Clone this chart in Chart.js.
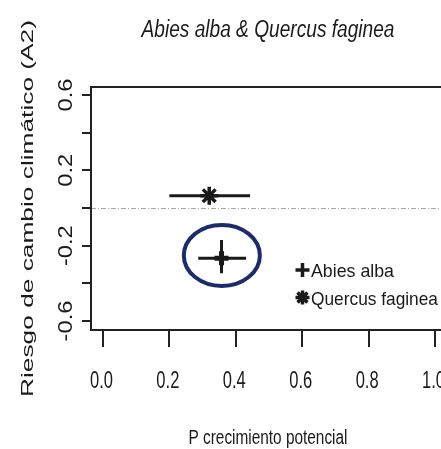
<!DOCTYPE html>
<html>
<head>
<meta charset="utf-8">
<script src="https://cdn.jsdelivr.net/npm/chart.js@4.4.0/dist/chart.umd.min.js"></script>
<style>
    html, body { margin: 0; padding: 0; background: #fff; overflow: hidden; }
    #wrap { width: 470px; height: 449px; }
</style>
</head>
<body>
<div id="wrap"><canvas id="myChart" width="470" height="449"></canvas></div>
<script>
// values
var species = ['Abies alba', 'Quercus faginea'];
var growth = [0.357, 0.32];
var risk = [-0.267, 0.065];
var growthLow = [0.287, 0.2];
var growthHigh = [0.431, 0.443];
var riskLow = [-0.347, 0.065];
var riskHigh = [-0.17, 0.065];
var markers = ['cross', 'star'];

var xTicks = [0, 0.2, 0.4, 0.6, 0.8, 1.0];
var yTicks = [-0.6, -0.4, -0.2, 0, 0.2, 0.4, 0.6];
var yLabels = [-0.6, -0.2, 0.2, 0.6];

var FONT = "'Liberation Sans', Arial, sans-serif";
var INK = '#1a1a1a';

function fitScale(ctx, text, font, target) {
    ctx.font = font;
    return target / ctx.measureText(text).width;
}

function drawText(ctx, text, x, y, font, sx, rot, align) {
    ctx.save();
    ctx.font = font;
    ctx.translate(x, y);
    if (rot) ctx.rotate(rot);
    ctx.scale(sx, 1);
    ctx.textAlign = align || 'center';
    ctx.textBaseline = 'alphabetic';
    ctx.fillStyle = INK;
    ctx.fillText(text, 0, 0);
    ctx.restore();
}

var rPlot = {
    id: 'rPlot',
    beforeDatasetsDraw: function(chart) {
        var ctx = chart.ctx, a = chart.chartArea;
        var xs = chart.scales.x, ys = chart.scales.y;

        // dot-dash reference line at zero
        ctx.save();
        ctx.strokeStyle = '#a8a8a8';
        ctx.lineWidth = 1;
        ctx.setLineDash([5, 2, 1, 2]);
        ctx.beginPath();
        var y0 = Math.round(ys.getPixelForValue(0)) + 0.5;
        ctx.moveTo(a.left, y0);
        ctx.lineTo(a.right, y0);
        ctx.stroke();
        ctx.restore();

        // error bars
        ctx.save();
        ctx.strokeStyle = INK;
        ctx.lineWidth = 3;
        species.forEach(function(name, i) {
            var py = ys.getPixelForValue(risk[i]);
            var px = xs.getPixelForValue(growth[i]);
            ctx.beginPath();
            ctx.moveTo(xs.getPixelForValue(growthLow[i]), py);
            ctx.lineTo(xs.getPixelForValue(growthHigh[i]), py);
            ctx.moveTo(px, ys.getPixelForValue(riskLow[i]));
            ctx.lineTo(px, ys.getPixelForValue(riskHigh[i]));
            ctx.stroke();
        });
        ctx.restore();
    },
    afterDatasetsDraw: function(chart, args, opts) {
        var ctx = chart.ctx, a = chart.chartArea;
        var xs = chart.scales.x, ys = chart.scales.y;

        // highlight ring
        var r = opts.ring;
        ctx.save();
        ctx.strokeStyle = '#1c2c6a';
        ctx.lineWidth = 4;
        ctx.beginPath();
        var cx = xs.getPixelForValue(r.x), cy = ys.getPixelForValue(r.y);
        ctx.ellipse(cx, cy,
            xs.getPixelForValue(r.x + r.rx) - cx,
            cy - ys.getPixelForValue(r.y + r.ry), 0, 0, Math.PI * 2);
        ctx.stroke();
        ctx.restore();

        // box
        ctx.save();
        ctx.strokeStyle = '#222';
        ctx.lineWidth = 2;
        ctx.strokeRect(a.left, a.top, a.right - a.left, a.bottom - a.top);
        ctx.restore();

        // title
        var tf = 'italic 23px ' + FONT;
        var title = 'Abies alba & Quercus faginea';
        drawText(ctx, title, 268, 37, tf, fitScale(ctx, title, tf, 253));

        // x tick labels
        var xf = '23.5px ' + FONT;
        var xsx = fitScale(ctx, '0.0', xf, 23);
        xTicks.forEach(function(v) {
            drawText(ctx, v.toFixed(1), xs.getPixelForValue(v) - 1.5, 387.5, xf, xsx);
        });

        // y tick labels, vertical as in R
        var yf = '20px ' + FONT;
        var ysx = fitScale(ctx, '0.6', yf, 33);
        yLabels.forEach(function(v) {
            drawText(ctx, v.toFixed(1), 72, ys.getPixelForValue(v), yf, ysx, -Math.PI / 2);
        });

        // axis titles
        var af = '19.5px ' + FONT;
        var xt = 'P crecimiento potencial';
        drawText(ctx, xt, 268, 444, af, fitScale(ctx, xt, af, 159));
        var yfT = '16px ' + FONT;
        var yt = 'Riesgo de cambio climático (A2)';
        drawText(ctx, yt, 32.5, 208.5, yfT, fitScale(ctx, yt, yfT, 377), -Math.PI / 2);

        // legend
        var lf = '19px ' + FONT;
        var ly = [270, 297.5];
        var lw = [83, 127];
        species.forEach(function(name, i) {
            ctx.save();
            ctx.strokeStyle = INK;
            ctx.fillStyle = INK;
            ctx.lineWidth = 3.5;
            Chart.helpers.drawPoint(ctx, {pointStyle: markers[i], radius: 7, rotation: 0, borderWidth: 3.5}, 302.5, ly[i]);
            ctx.restore();
            drawText(ctx, name, 311, ly[i] + 7, lf, fitScale(ctx, name, lf, lw[i]), 0, 'left');
        });
    }
};

var ctx = document.getElementById('myChart').getContext('2d');
var myChart = new Chart(ctx, {
    type: 'scatter',
    data: {
        datasets: species.map(function(name, i) {
            return {
                label: name,
                data: [{x: growth[i], y: risk[i]}],
                pointStyle: markers[i],
                pointRadius: i === 0 ? 7 : 9,
                borderWidth: i === 0 ? 5 : 3.5,
                borderColor: INK,
                backgroundColor: INK
            };
        })
    },
    options: {
        responsive: false,
        animation: false,
        layout: { padding: { top: 87, right: 22, left: 0, bottom: 0 } },
        plugins: {
            legend: { display: false },
            tooltip: { enabled: false },
            rPlot: { ring: { x: 0.358, y: -0.252, rx: 0.1145, ry: 0.162 } }
        },
        scales: {
            x: {
                type: 'linear',
                min: -0.036,
                max: 1.039,
                afterBuildTicks: function(s) { s.ticks = xTicks.map(function(v) { return {value: v}; }); },
                afterFit: function(s) { s.height = 119; },
                ticks: { display: false },
                border: { display: false },
                grid: { drawOnChartArea: false, drawTicks: true, tickLength: 17, color: '#222', lineWidth: 2 }
            },
            y: {
                type: 'linear',
                min: -0.648,
                max: 0.6425,
                afterBuildTicks: function(s) { s.ticks = yTicks.map(function(v) { return {value: v}; }); },
                afterFit: function(s) { s.width = 91; },
                ticks: { display: false },
                border: { display: false },
                grid: { drawOnChartArea: false, drawTicks: true, tickLength: 9, color: '#222', lineWidth: 2 }
            }
        }
    },
    plugins: [rPlot]
});
</script>
</body>
</html>
